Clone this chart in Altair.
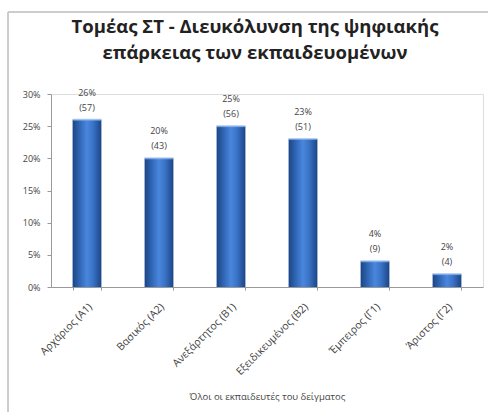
import altair as alt
import pandas as pd

categories = ["Αρχάριος (Α1)", "Βασικός (Α2)", "Ανεξάρτητος (Β1)", "Εξειδικευμένος (Β2)", "Έμπειρος (Γ1)", "Άριστος (Γ2)"]
percents = [26, 20, 25, 23, 4, 2]
counts = [57, 43, 56, 51, 9, 4]
y_ticks = [0, 5, 10, 15, 20, 25, 30]
title_lines = ["Τομέας ΣΤ - Διευκόλυνση της ψηφιακής", "επάρκειας των εκπαιδευομένων"]

df = pd.DataFrame({"cat": categories, "pct": percents, "n": counts})
df["pct_label"] = [f"{p}%" for p in percents]
df["n_label"] = [f"({c})" for c in counts]

W, H = 432, 193
FONT = "Open Sans"
TXT = "#444444"

x_enc = alt.X(
    "cat:N", sort=categories,
    scale=alt.Scale(paddingInner=0.6, paddingOuter=0.3),
    axis=alt.Axis(
        title="Όλοι οι εκπαιδευτές του δείγματος", titleFont=FONT, titleFontSize=9.5,
        titleFontWeight="normal", titleColor=TXT, titlePadding=14,
        labelAngle=-45, labelAlign="right", labelBaseline="middle", labelFont=FONT,
        labelFontSize=10.5, labelColor=TXT, labelPadding=15, labelOffset=3,
        labelOverlap=False,
        tickBand="extent", tickSize=3, tickColor="#999", domainColor="#999",
    ),
)
y_enc = alt.Y(
    "pct:Q",
    scale=alt.Scale(domain=[0, 30]),
    axis=alt.Axis(
        title=None, values=y_ticks, labelExpr="datum.value + '%'", grid=False,
        labelOverlap=False, labelFont=FONT, labelFontSize=9, labelColor=TXT, tickSize=4,
        tickColor="#999", domainColor="#999", labelPadding=7,
    ),
)

grad = alt.Gradient(
    gradient="linear", x1=0, x2=1, y1=0, y2=0,
    stops=[
        alt.GradientStop(color="#1b4585", offset=0),
        alt.GradientStop(color="#3a74c8", offset=0.35),
        alt.GradientStop(color="#4a86dc", offset=0.5),
        alt.GradientStop(color="#3a74c8", offset=0.7),
        alt.GradientStop(color="#1b4585", offset=1),
    ],
)

base = alt.Chart(df)
bars = base.mark_bar(color=grad).encode(x=x_enc, y=y_enc)
caps = base.mark_tick(color="#8fb6ec", thickness=2, size=29).encode(x=x_enc, y=y_enc)
pct_text = base.mark_text(
    baseline="alphabetic", dy=-24, font=FONT, fontSize=9, color=TXT
).encode(x=x_enc, y=y_enc, text="pct_label:N")
n_text = base.mark_text(
    baseline="alphabetic", dy=-9, font=FONT, fontSize=9, color=TXT
).encode(x=x_enc, y=y_enc, text="n_label:N")

tdf = pd.DataFrame({"t": title_lines, "i": [0, 1]})
title1 = alt.Chart(tdf).transform_filter("datum.i == 0").mark_text(
    font=FONT, fontSize=18.5, fontWeight="bold", color="#222", baseline="middle", align="center"
).encode(x=alt.value(204), y=alt.value(-67), text="t:N")
title2 = alt.Chart(tdf).transform_filter("datum.i == 1").mark_text(
    font=FONT, fontSize=18.5, fontWeight="bold", color="#222", baseline="middle", align="center"
).encode(x=alt.value(204), y=alt.value(-41.5), text="t:N")

frame_left = alt.Chart(df).mark_rule(color="#cccccc", strokeWidth=1).encode(
    x=alt.value(-43), y=alt.value(-82), y2=alt.value(400)
)
frame_top = alt.Chart(df).mark_rule(color="#cccccc", strokeWidth=1).encode(
    x=alt.value(-43), x2=alt.value(500), y=alt.value(-82)
)

chart = alt.layer(frame_left, frame_top, bars, caps, pct_text, n_text, title1, title2).properties(
    width=W, height=H,
    autosize=alt.AutoSizeParams(type="none"),
    padding={"left": 51, "top": 94, "right": 5, "bottom": 125},
).configure_view(stroke=None).configure(background="white")

chart.save("out.html", embed_options={"renderer": "svg", "actions": False})
